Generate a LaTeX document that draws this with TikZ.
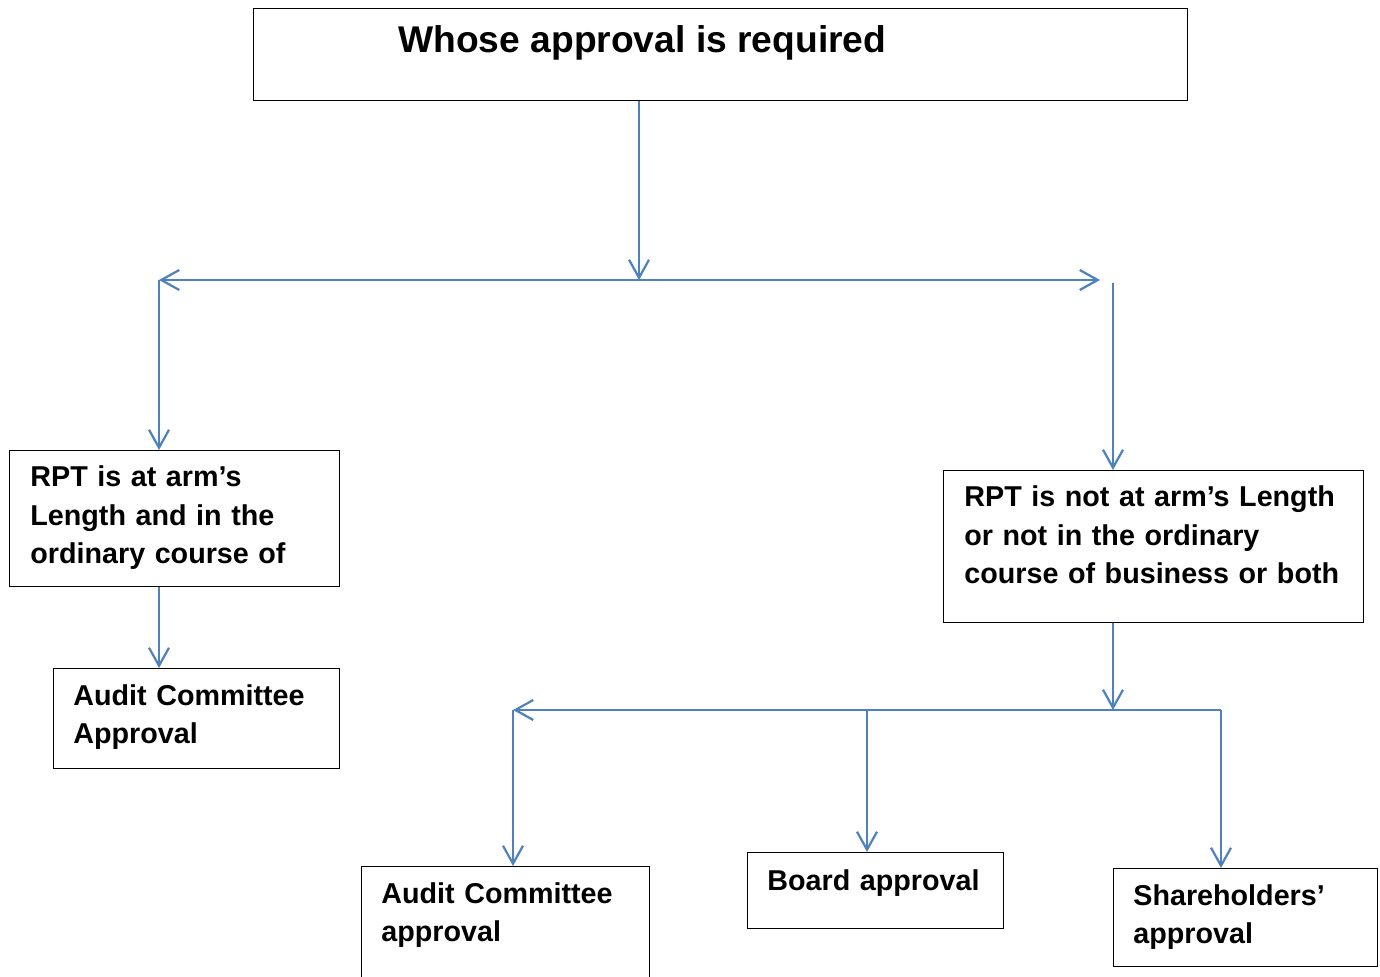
\documentclass[tikz,border=0pt]{standalone}
\usepackage{fontspec}
\setmainfont{Liberation Sans}
\usetikzlibrary{arrows.meta}
\definecolor{conn}{RGB}{79,129,189}
\tikzset{
  box/.style={draw=black, line width=0.6pt, anchor=north west, inner sep=0pt, fill=white},
  txt/.style={anchor=base west, inner sep=0pt, text width=220pt, align=left,
              font=\bfseries\fontsize{14.35}{19.25}\selectfont},
  ttl/.style={anchor=base west, inner sep=0pt, font=\bfseries\fontsize{18.6}{22}\selectfont},
  arr/.style={draw=conn, line width=1.15pt, -{Straight Barb[length=9pt,width=10pt,line width=1.1pt]}},
  arrb/.style={draw=conn, line width=1.15pt, {Straight Barb[length=9pt,width=10pt,line width=1.1pt]}-{Straight Barb[length=9pt,width=10pt,line width=1.1pt]}},
  arrl/.style={draw=conn, line width=1.15pt, {Straight Barb[length=9pt,width=10pt,line width=1.1pt]}-}
}
\begin{document}
\begin{tikzpicture}[x=0.5pt,y=-0.5pt]
\clip (0,0) rectangle (1380,977);
\fill[white] (0,0) rectangle (1380,977);
% boxes
\node[box, minimum width=467pt, minimum height=46pt] (top) at (253,8) {};
\node[box, minimum width=165pt, minimum height=68pt] (left) at (9,450) {};
\node[box, minimum width=143pt, minimum height=50pt] (aud1) at (53,668) {};
\node[box, minimum width=210pt, minimum height=76pt] (right) at (943,470) {};
\node[box, minimum width=144pt, minimum height=80pt] (aud2) at (361,866) {};
\node[box, minimum width=128pt, minimum height=38pt] (board) at (747,852) {};
\node[box, minimum width=132pt, minimum height=49pt] (shr) at (1113,868) {};
% texts
\node[ttl] (ttop) at (398,53) {Whose approval is required};
\node[txt] (tleft) at (30,487) {RPT is at arm’s\\Length and in the\\ordinary course of};
\node[txt] (taud1) at (73,705) {Audit Committee\\Approval};
\node[txt] (tright) at (964,507) {RPT is not at arm’s Length\\or not in the ordinary\\course of business or both};
\node[txt] (taud2) at (381,903) {Audit Committee\\approval};
\node[txt] (tboard) at (767,890) {Board approval};
\node[txt] (tshr) at (1133,905) {Shareholders’\\approval};
% junctions
\coordinate (j0) at (639,280);
\coordinate (hl) at (159,280);
\coordinate (hr) at (1100,280);
\coordinate (rt) at (1113,283);
\coordinate (bj) at (1113,710);
\coordinate (bl) at (513,710);
\coordinate (bm) at (867,710);
\coordinate (br) at (1221,710);
% connectors
\draw[arr] (top.south -| j0) -- (j0);
\draw[arrb] (hl) -- (hr);
\draw[arr] (hl) -- (hl |- left.north);
\draw[arr] (rt) -- (rt |- right.north);
\draw[arr] (left.south -| hl) -- (aud1.north -| hl);
\draw[arr] (right.south -| bj) -- (bj);
\draw[arrl] (bl) -- (br);
\draw[arr] (bl) -- (bl |- aud2.north);
\draw[arr] (bm) -- (bm |- board.north);
\draw[arr] (br) -- (br |- shr.north);
\end{tikzpicture}
\end{document}
